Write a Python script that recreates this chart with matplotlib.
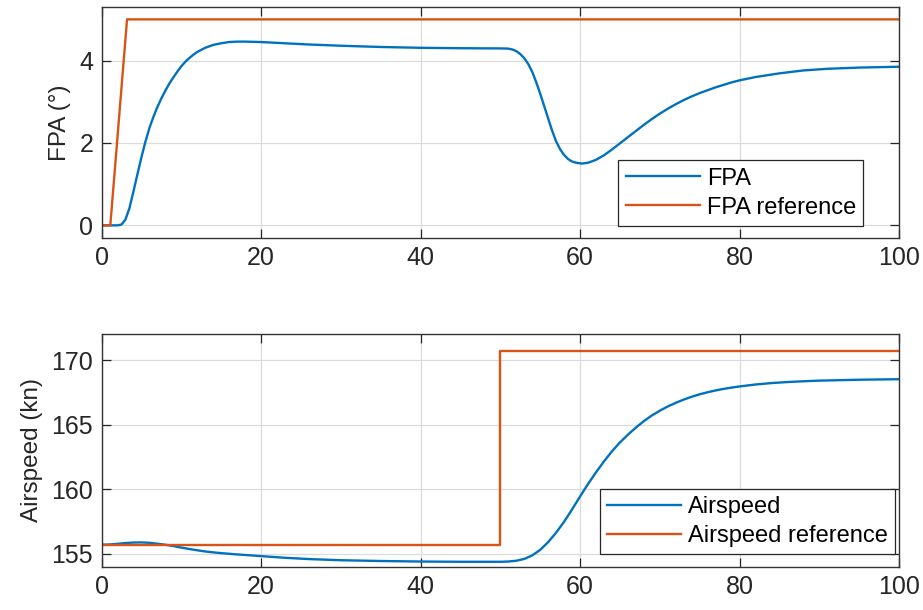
import numpy as np
import matplotlib
matplotlib.use('Agg')
import matplotlib.pyplot as plt

# flight path angle response (deg) vs time (s)
t_fpa = [0, 1, 2, 2.5, 3, 3.5, 4, 4.5, 5, 5.5, 6, 6.5, 7, 7.5, 8, 8.5, 9, 9.5,
         10, 10.5, 11, 11.5, 12, 13, 14, 15, 16, 17, 18, 20, 23, 26, 30, 35,
         40, 45, 50, 51, 51.5, 52, 52.5, 53, 53.5, 54, 54.5, 55, 55.5, 56,
         56.5, 57, 57.5, 58, 58.5, 59, 59.5, 60.2, 61, 62, 63, 64, 65, 66, 67,
         68, 69, 70, 71, 72, 73, 74, 75, 76, 77, 78, 79, 80, 82, 85, 88, 91,
         95, 100]
fpa = [0, 0, 0.0, 0.02, 0.14, 0.42, 0.82, 1.24, 1.65, 2.03, 2.36, 2.63, 2.87,
       3.08, 3.27, 3.44, 3.59, 3.73, 3.86, 3.97, 4.06, 4.14, 4.21, 4.31, 4.38,
       4.42, 4.45, 4.46, 4.46, 4.45, 4.42, 4.39, 4.36, 4.33, 4.31, 4.30, 4.295,
       4.29, 4.27, 4.23, 4.16, 4.06, 3.92, 3.73, 3.48, 3.2, 2.9, 2.6, 2.3,
       2.04, 1.85, 1.71, 1.61, 1.55, 1.52, 1.50, 1.52, 1.59, 1.7, 1.84, 1.99,
       2.14, 2.29, 2.44, 2.58, 2.71, 2.83, 2.94, 3.04, 3.13, 3.21, 3.28, 3.35,
       3.41, 3.47, 3.52, 3.6, 3.69, 3.76, 3.8, 3.83, 3.85]

t_fpa_ref = [0, 1.1, 3.2, 100]
fpa_ref = [0, 0, 5, 5]

# airspeed response (kn) vs time (s)
t_spd = [0, 1, 2, 3, 4, 5, 6, 7, 8, 9, 10, 11, 12, 13, 14, 15, 17, 20, 23, 26,
         30, 35, 40, 45, 50, 51, 52, 53, 54, 55, 56, 57, 58, 59, 60, 61, 62,
         63, 64, 65, 66, 67, 68, 69, 70, 71, 72, 73, 74, 75, 76, 77, 78, 79,
         80, 82, 84, 86, 88, 90, 95, 100]
spd = [155.7, 155.72, 155.77, 155.83, 155.87, 155.88, 155.85, 155.78, 155.7,
       155.6, 155.48, 155.37, 155.27, 155.18, 155.11, 155.05, 154.95, 154.82,
       154.69, 154.59, 154.5, 154.44, 154.4, 154.38, 154.38, 154.4, 154.46,
       154.6, 154.87, 155.3, 155.9, 156.63, 157.48, 158.43, 159.43, 160.4,
       161.3, 162.15, 162.93, 163.62, 164.22, 164.77, 165.27, 165.71, 166.08,
       166.41, 166.69, 166.94, 167.16, 167.35, 167.51, 167.65, 167.77, 167.87,
       167.96, 168.11, 168.22, 168.3, 168.36, 168.41, 168.48, 168.52]

t_spd_ref = [0, 50, 50, 100]
spd_ref = [155.7, 155.7, 170.7, 170.7]

blue = '#0072BD'
orange = '#D95319'
ink = '#262626'

plt.rcParams['font.family'] = ['Liberation Sans', 'DejaVu Sans']

fig = plt.figure(figsize=(9.23, 6.10), dpi=100)
ax0 = fig.add_axes([0.110, 0.6103, 0.864, 0.3782])
ax1 = fig.add_axes([0.110, 0.0710, 0.864, 0.3810])


def style(ax):
    ax.grid(True, color='#dcdcdc', linewidth=0.9)
    ax.set_axisbelow(True)
    for s in ax.spines.values():
        s.set_color('#333333')
        s.set_linewidth(1.0)
    ax.tick_params(direction='in', length=6.5, width=0.9, colors=ink,
                   labelsize=18, top=True, right=True, pad=6)
    ax.set_xlim(0, 100)
    ax.set_xticks([0, 20, 40, 60, 80, 100])


def add_legend(ax, anchor):
    leg = ax.legend(loc='lower right', bbox_to_anchor=anchor,
                    fontsize=17, fancybox=False, framealpha=1,
                    edgecolor='#262626', handlelength=3.15, handletextpad=0.3,
                    labelspacing=0.3, borderpad=0.3, borderaxespad=0)
    leg.get_frame().set_linewidth(0.9)
    return leg


ax0.plot(t_fpa, fpa, color=blue, lw=1.7, label='FPA')
ax0.plot(t_fpa_ref, fpa_ref, color=orange, lw=1.7, label='FPA reference')
style(ax0)
ax0.set_ylim(-0.3, 5.3)
ax0.set_yticks([0, 2, 4])
ax0.set_ylabel('FPA (°)', fontsize=17.5, color=ink, labelpad=6)
add_legend(ax0, (0.9553, 0.052))

ax1.plot(t_spd, spd, color=blue, lw=1.7, label='Airspeed')
ax1.plot(t_spd_ref, spd_ref, color=orange, lw=1.7, label='Airspeed reference')
style(ax1)
ax1.set_ylim(154, 172)
ax1.set_yticks([155, 160, 165, 170])
ax1.set_ylabel('Airspeed (kn)', fontsize=17.5, color=ink, labelpad=6)
add_legend(ax1, (0.9954, 0.053))

fig.savefig('out.png', dpi=100)
